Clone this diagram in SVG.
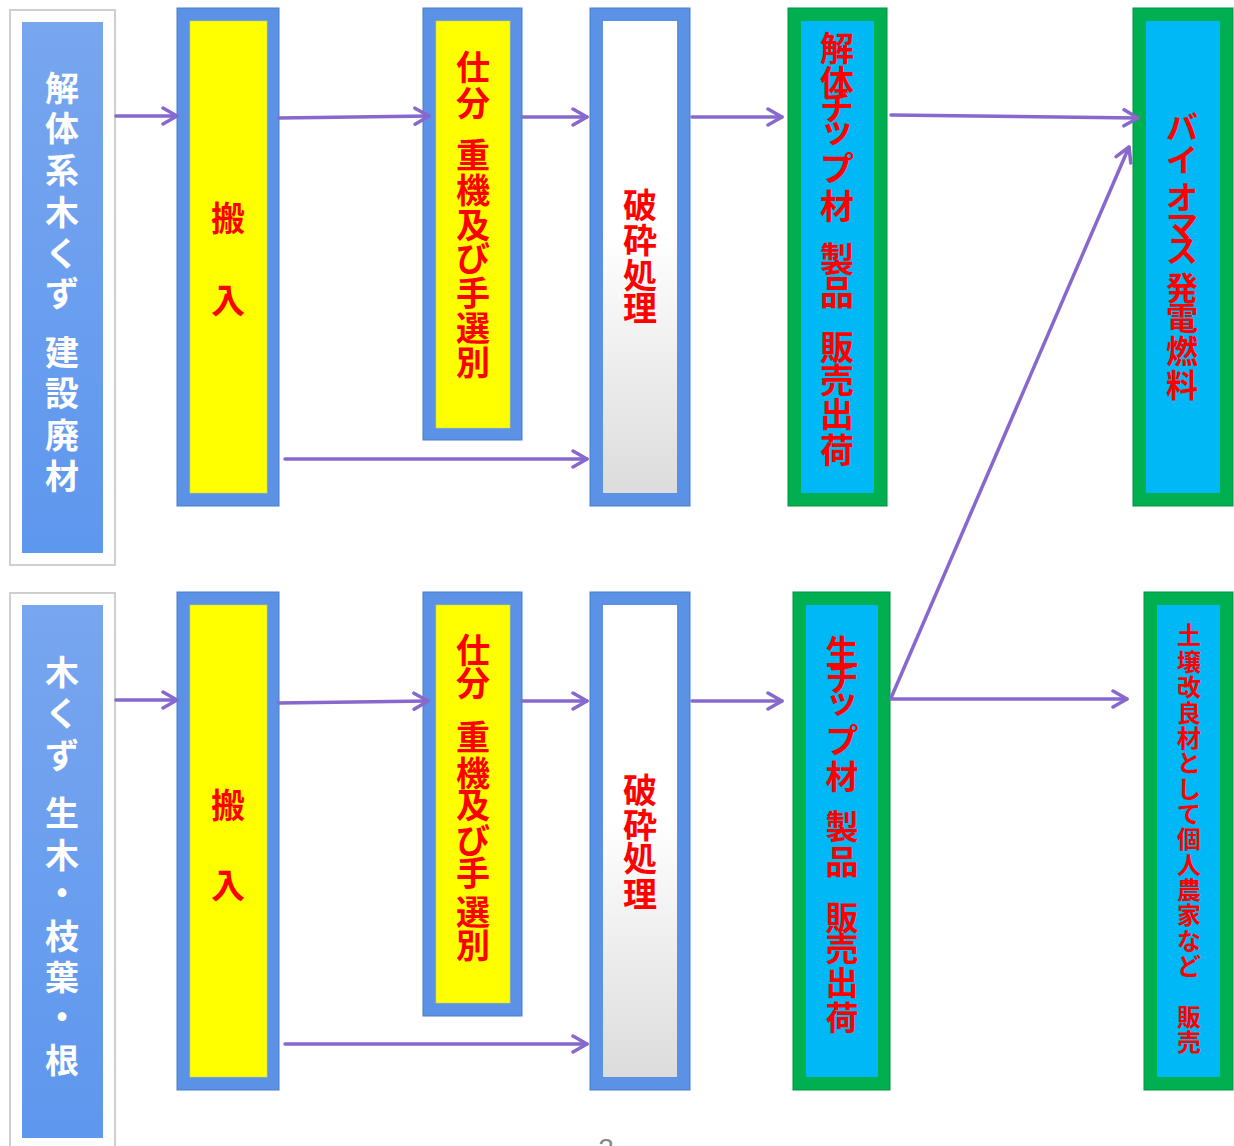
<svg xmlns="http://www.w3.org/2000/svg" width="1234" height="1146" viewBox="0 0 1234 1146">
<defs>
<style>
.t{font-family:"Noto Sans CJK JP","Noto Sans CJK SC",sans-serif;font-weight:bold;text-anchor:middle}
.w{fill:#ffffff;font-size:34px}
.r{fill:#ff0000;font-size:34px}
.blue{fill:#5b92e5;stroke:#4a7cc9;stroke-width:1}
.green{fill:#00b050;stroke:#00913f;stroke-width:1}
.yel{fill:#ffff00;stroke:#c9d46a;stroke-width:0.6}
.cyan{fill:#00b8f5}
.frame{fill:#ffffff;stroke:#cfcfcf;stroke-width:2}
.src{fill:url(#srcg)}
.arr{fill:none;stroke:#8768cc;stroke-width:3.5;stroke-linecap:round;marker-end:url(#ah)}
</style>
<linearGradient id="srcg" x1="0" y1="0" x2="0" y2="1">
<stop offset="0" stop-color="#78a6ef"/>
<stop offset="1" stop-color="#5e97ee"/>
</linearGradient>
<linearGradient id="wg" x1="0" y1="0" x2="0" y2="1">
<stop offset="0" stop-color="#ffffff"/>
<stop offset="0.45" stop-color="#ffffff"/>
<stop offset="1" stop-color="#dcdcdc"/>
</linearGradient>
<marker id="ah" viewBox="0 0 18 20" refX="16" refY="10" markerWidth="18" markerHeight="20" markerUnits="userSpaceOnUse" orient="auto">
<path d="M2,2 L16,10 L2,18" fill="none" stroke="#8768cc" stroke-width="3.5" stroke-linecap="round" stroke-linejoin="round"/>
</marker>
</defs>
<rect width="1234" height="1146" fill="#ffffff"/>

<g id="src-top">
<rect class="frame" x="10" y="10" width="105" height="555"/>
<rect class="src" x="22" y="22" width="81" height="531"/>
<text class="t w"><tspan x="62" y="101">解</tspan><tspan x="62" y="141">体</tspan><tspan x="62" y="183">系</tspan><tspan x="62" y="225">木</tspan><tspan x="62" y="266">く</tspan><tspan x="62" y="306">ず</tspan><tspan x="62" y="365">建</tspan><tspan x="62" y="406">設</tspan><tspan x="62" y="448">廃</tspan><tspan x="62" y="489">材</tspan></text>
</g>
<g id="src-bottom">
<rect class="frame" x="10" y="593" width="105" height="565"/>
<rect class="src" x="22" y="605" width="81" height="533"/>
<text class="t w"><tspan x="62" y="685">木</tspan><tspan x="62" y="726">く</tspan><tspan x="62" y="768">ず</tspan><tspan x="62" y="826">生</tspan><tspan x="62" y="868">木</tspan><tspan x="62" y="906">・</tspan><tspan x="62" y="949">枝</tspan><tspan x="62" y="990">葉</tspan><tspan x="62" y="1030">・</tspan><tspan x="62" y="1073">根</tspan></text>
</g>

<g id="hannyu-top">
<rect class="blue" x="177" y="8" width="102" height="498"/>
<rect class="yel" x="190" y="21" width="77" height="472"/>
<text class="t r"><tspan x="228" y="231">搬</tspan><tspan x="228" y="313">入</tspan></text>
</g>
<g id="hannyu-bottom">
<rect class="blue" x="177" y="592" width="102" height="498"/>
<rect class="yel" x="190" y="605" width="77" height="472"/>
<text class="t r"><tspan x="228" y="818">搬</tspan><tspan x="228" y="898">入</tspan></text>
</g>

<g id="shiwake-top">
<rect class="blue" x="423" y="8" width="99" height="432"/>
<rect class="yel" x="436" y="21" width="74" height="407"/>
<text class="t r"><tspan x="473" y="80">仕</tspan><tspan x="473" y="116">分</tspan><tspan x="473" y="168">重</tspan><tspan x="473" y="203">機</tspan><tspan x="473" y="238">及</tspan><tspan x="473" y="271">び</tspan><tspan x="473" y="306">手</tspan><tspan x="473" y="341">選</tspan><tspan x="473" y="375">別</tspan></text>
</g>
<g id="shiwake-bottom">
<rect class="blue" x="423" y="592" width="99" height="424"/>
<rect class="yel" x="436" y="605" width="74" height="398"/>
<text class="t r"><tspan x="473" y="663">仕</tspan><tspan x="473" y="696">分</tspan><tspan x="473" y="750">重</tspan><tspan x="473" y="786">機</tspan><tspan x="473" y="818">及</tspan><tspan x="473" y="853">び</tspan><tspan x="473" y="886">手</tspan><tspan x="473" y="925">選</tspan><tspan x="473" y="958">別</tspan></text>
</g>

<g id="hasai-top">
<rect class="blue" x="590" y="8" width="100" height="498"/>
<rect x="603" y="21" width="74" height="472" fill="url(#wg)"/>
<text class="t r"><tspan x="640" y="218">破</tspan><tspan x="640" y="253">砕</tspan><tspan x="640" y="288">処</tspan><tspan x="640" y="321">理</tspan></text>
</g>
<g id="hasai-bottom">
<rect class="blue" x="590" y="592" width="100" height="498"/>
<rect x="603" y="605" width="74" height="472" fill="url(#wg)"/>
<text class="t r"><tspan x="640" y="803">破</tspan><tspan x="640" y="838">砕</tspan><tspan x="640" y="871">処</tspan><tspan x="640" y="907">理</tspan></text>
</g>

<g id="chip-top">
<rect class="green" x="788" y="8" width="99" height="498"/>
<rect class="cyan" x="801" y="21" width="73" height="472"/>
<text class="t r"><tspan x="837" y="61">解</tspan><tspan x="837" y="95">体</tspan><tspan x="837" y="120">チ</tspan><tspan x="837" y="142">ッ</tspan><tspan x="837" y="181">プ</tspan><tspan x="837" y="219">材</tspan><tspan x="837" y="272">製</tspan><tspan x="837" y="305">品</tspan><tspan x="837" y="360">販</tspan><tspan x="837" y="393">売</tspan><tspan x="837" y="427">出</tspan><tspan x="837" y="463">荷</tspan></text>
</g>
<g id="chip-bottom">
<rect class="green" x="793" y="592" width="97" height="498"/>
<rect class="cyan" x="806" y="605" width="72" height="472"/>
<text class="t r" style="font-size:33px"><tspan x="842" y="664">生</tspan><tspan x="842" y="691">チ</tspan><tspan x="842" y="713">ッ</tspan><tspan x="842" y="753">プ</tspan><tspan x="842" y="789">材</tspan><tspan x="842" y="839">製</tspan><tspan x="842" y="874">品</tspan><tspan x="842" y="930">販</tspan><tspan x="842" y="961">売</tspan><tspan x="842" y="995">出</tspan><tspan x="842" y="1030">荷</tspan></text>
</g>

<g id="biomass">
<rect class="green" x="1133" y="8" width="100" height="498"/>
<rect class="cyan" x="1146" y="21" width="74" height="472"/>
<text class="t r" style="font-size:32px"><tspan x="1182" y="139">バ</tspan><tspan x="1182" y="172">イ</tspan><tspan x="1182" y="209">オ</tspan><tspan x="1182" y="238">マ</tspan><tspan x="1182" y="262">ス</tspan><tspan x="1182" y="300">発</tspan><tspan x="1182" y="330">電</tspan><tspan x="1182" y="363">燃</tspan><tspan x="1182" y="397">料</tspan></text>
</g>
<g id="soil">
<rect class="green" x="1144" y="592" width="89" height="498"/>
<rect class="cyan" x="1157" y="605" width="63" height="472"/>
<text class="t r" style="font-size:24px"><tspan x="1189" y="644">土</tspan><tspan x="1189" y="671">壌</tspan><tspan x="1189" y="696">改</tspan><tspan x="1189" y="722">良</tspan><tspan x="1189" y="747">材</tspan><tspan x="1189" y="772">と</tspan><tspan x="1189" y="798">し</tspan><tspan x="1189" y="823">て</tspan><tspan x="1189" y="848">個</tspan><tspan x="1189" y="874">人</tspan><tspan x="1189" y="899">農</tspan><tspan x="1189" y="924">家</tspan><tspan x="1189" y="950">な</tspan><tspan x="1189" y="975">ど</tspan><tspan x="1189" y="1026">販</tspan><tspan x="1189" y="1051">売</tspan></text>
</g>

<g id="connectors">
<line class="arr" x1="116" y1="116" x2="177" y2="116"/>
<line class="arr" x1="279" y1="118" x2="429" y2="116"/>
<line class="arr" x1="522" y1="117" x2="587" y2="117"/>
<line class="arr" x1="692" y1="117" x2="782" y2="117"/>
<line class="arr" x1="891" y1="115" x2="1138" y2="118"/>
<line class="arr" x1="285" y1="459" x2="587" y2="459"/>
<line class="arr" x1="891" y1="698" x2="1129" y2="147"/>
<line class="arr" x1="116" y1="700" x2="177" y2="700"/>
<line class="arr" x1="279" y1="703" x2="428" y2="701"/>
<line class="arr" x1="522" y1="701" x2="587" y2="701"/>
<line class="arr" x1="692" y1="701" x2="782" y2="701"/>
<line class="arr" x1="891" y1="699" x2="1127" y2="699"/>
<line class="arr" x1="285" y1="1044" x2="587" y2="1044"/>
</g>

<text x="606" y="1158" style="font-family:'Liberation Sans',sans-serif;font-size:28px;fill:#888888;text-anchor:middle">2</text>
</svg>
